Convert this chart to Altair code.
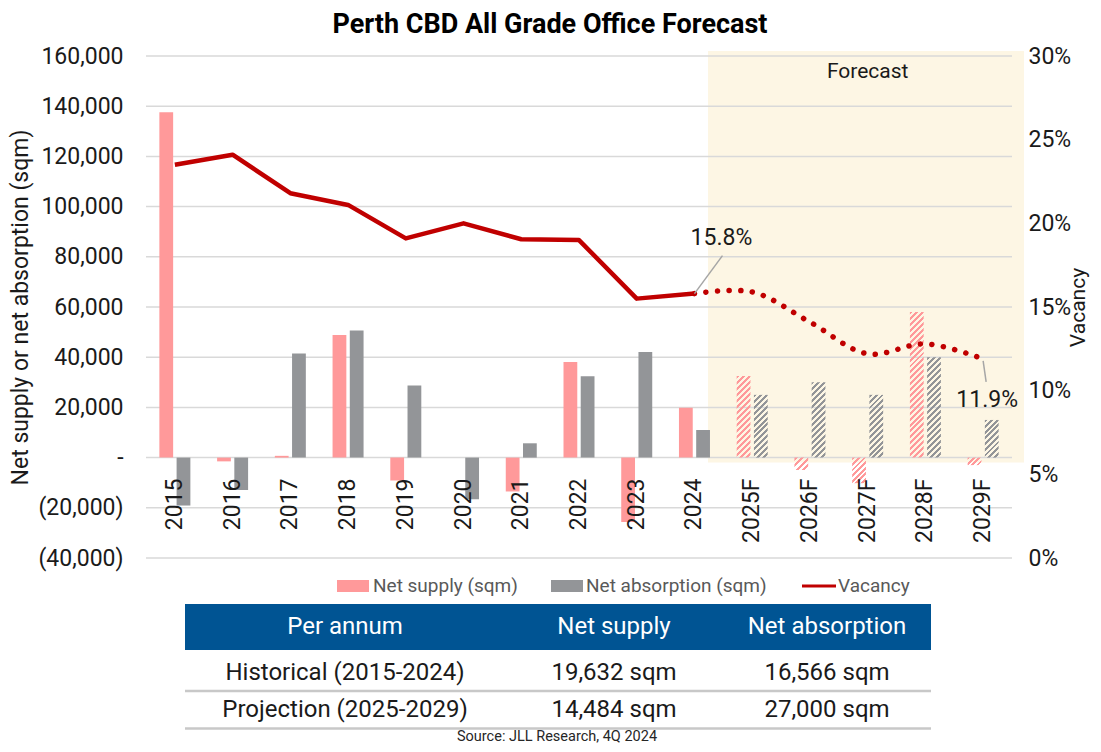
import altair as alt
import pandas as pd

# ---------------- data ----------------
years = ["2015", "2016", "2017", "2018", "2019", "2020", "2021", "2022", "2023", "2024",
         "2025F", "2026F", "2027F", "2028F", "2029F"]
net_supply = [137600, -1500, 700, 48800, -9100, 0, -13500, 38100, -25700, 19900,
              32500, -4900, -10200, 58000, -3000]
net_absorption = [-19100, -12900, 41500, 50600, 28700, -16600, 5700, 32400, 42100, 11000,
                  25000, 30000, 25000, 40000, 15000]
vacancy = [23.5, 24.1, 21.8, 21.1, 19.1, 20.0, 19.05, 19.0, 15.5, 15.8,
           15.9, 14.1, 12.2, 12.8, 11.9]
n_hist = 10  # 2015-2024 actuals, rest forecast

series_names = ["Net supply (sqm)", "Net absorption (sqm)"]
legend_labels = ["Net supply (sqm)", "Net absorption (sqm)", "Vacancy"]
y_ticks = [-40000, -20000, 0, 20000, 40000, 60000, 80000, 100000, 120000, 140000, 160000]
vac_ticks = [0, 5, 10, 15, 20, 25, 30]

table_header = ["Per annum", "Net supply", "Net absorption"]
table_rows = [["Historical (2015-2024)", "19,632 sqm", "16,566 sqm"],
              ["Projection (2025-2029)", "14,484 sqm", "27,000 sqm"]]
source_text = "Source: JLL Research, 4Q 2024"
chart_title = "Perth CBD All Grade Office Forecast"
forecast_label = "Forecast"

# ---------------- style ----------------
PINK = "#FF999A"
GREY = "#939598"
RED = "#C00000"
SHADE = "#FDF6E4"
GRID = "#D9D9D9"
BLUE = "#005493"
TXT = "#1a1a1a"
FONT = "Roboto"
W, H = 866, 502

x_scale = alt.Scale(domain=years, paddingInner=0.463, paddingOuter=0.2315)
y_scale = alt.Scale(domain=[-40000, 160000], nice=False, zero=False)
v_scale = alt.Scale(domain=[0, 30], nice=False, zero=False)
off_scale = alt.Scale(domain=series_names, paddingInner=0.2, paddingOuter=0)

x_axis = alt.Axis(title=None, labelAngle=270, labelFontSize=23, labelFont=FONT,
                  labelColor=TXT, domain=False, ticks=False, tickSize=0, grid=False,
                  labelPadding=20, offset=-100, zindex=1)
left_label_expr = ("datum.value == 0 ? '-\u00a0' : (datum.value < 0 ? '(' + format(-datum.value, ',') + ')'"
                   " : format(datum.value, ',') + '\u00a0')")
y_axis = alt.Axis(title="Net supply or net absorption (sqm)", values=y_ticks,
                  labelExpr=left_label_expr, labelFontSize=23, labelFont=FONT, labelColor=TXT,
                  domain=False, ticks=False, grid=False, labelPadding=23,
                  titleFont=FONT, titleFontSize=23, titleFontWeight="normal", titleColor=TXT,
                  titlePadding=5)
v_axis = alt.Axis(title="Vacancy", orient="right", values=vac_ticks,
                  labelExpr="datum.value + '%'", labelFontSize=23, labelFont=FONT, labelColor=TXT,
                  domain=False, ticks=False, grid=False, labelPadding=16,
                  titleFont=FONT, titleFontSize=21, titleFontWeight="normal", titleColor=TXT,
                  titleAngle=270, titleBaseline="top", titlePadding=-3)


def X(field="year:N", **kw):
    return alt.X(field, sort=years, scale=x_scale, axis=x_axis, **kw)


def Y(field="value:Q"):
    return alt.Y(field, scale=y_scale, axis=y_axis)


def V(field="vacancy:Q"):
    return alt.Y(field, scale=v_scale, axis=v_axis)


# ---------------- bars ----------------
rows = []
for i, yr in enumerate(years):
    rows.append({"year": yr, "series": series_names[0], "value": net_supply[i], "fc": i >= n_hist})
    rows.append({"year": yr, "series": series_names[1], "value": net_absorption[i], "fc": i >= n_hist})
bars_df = pd.DataFrame(rows)
hist_df = bars_df[~bars_df["fc"]]
fc_df = bars_df[bars_df["fc"]]

# shaded forecast region
shade = alt.Chart(pd.DataFrame({"k": [0]})).mark_rect(
    color=SHADE, xOffset=-28.7, x2Offset=25.4, yOffset=-5, y2Offset=5
).encode(
    x=alt.X(datum=years[n_hist], type="nominal", bandPosition=0, scale=x_scale, axis=x_axis),
    x2=alt.X2(datum=years[-1], bandPosition=1),
    y=alt.Y(datum=160000, type="quantitative", scale=y_scale, axis=y_axis),
    y2=alt.Y2(datum=0),
)

grid = alt.Chart(pd.DataFrame({"tick": y_ticks})).mark_rule(
    color=GRID, strokeWidth=1.5
).encode(y=Y("tick:Q"))

bars_hist = alt.Chart(hist_df).mark_bar().encode(
    x=X(),
    xOffset=alt.XOffset("series:N", sort=series_names, scale=off_scale),
    y=Y(),
    fill=alt.Fill("series:N", scale=alt.Scale(domain=series_names, range=[PINK, GREY]), legend=None),
)

# hatched forecast bars (diagonal stripes via hard-stop gradients)
step = W / 15.0
bar_w = step * (1 - 0.463) / (2 - 0.2) * 0.8
px_per_unit = H / 200000.0


def hatch(color, w, h, period=6.0):
    h = max(h, 1.0)
    n = max(1, int(round((w + h) / period)))
    k = (w + h) / (w * w + h * h)
    a, b = w * k, h * k
    clear = "rgba(255,255,255,0)"
    stops = []
    for j in range(n):
        o0, o1, o2 = j / n, (j + 0.5) / n, (j + 1) / n
        stops += [alt.GradientStop(color=color, offset=o0),
                  alt.GradientStop(color=color, offset=o1),
                  alt.GradientStop(color=clear, offset=o1),
                  alt.GradientStop(color=clear, offset=min(o2, 1.0))]
    return alt.LinearGradient(gradient="linear", stops=stops, x1=0, y1=0, x2=a, y2=b)


fc_layers = []
for _, r in fc_df.iterrows():
    if r["value"] == 0:
        continue
    col = PINK if r["series"] == series_names[0] else GREY
    grad = hatch(col, bar_w, abs(r["value"]) * px_per_unit)
    fc_layers.append(
        alt.Chart(pd.DataFrame([r[["year", "series", "value"]].to_dict()])).mark_bar(fill=grad).encode(
            x=X(),
            xOffset=alt.XOffset("series:N", sort=series_names, scale=off_scale),
            y=Y(),
        )
    )

fc_text = alt.Chart(pd.DataFrame({"t": [forecast_label]})).mark_text(
    font=FONT, fontSize=21, color=TXT
).encode(
    x=alt.X(datum="2027F", type="nominal", scale=x_scale, axis=x_axis),
    y=alt.Y(datum=153500, type="quantitative", scale=y_scale, axis=y_axis),
    text="t:N",
)

bars_group = alt.layer(shade, grid, bars_hist, *fc_layers, fc_text)

# ---------------- vacancy line ----------------
vac_df = pd.DataFrame({"year": years, "vacancy": vacancy})
vac_hist = vac_df.iloc[:n_hist]
vac_fc = vac_df.iloc[n_hist - 1:]

line_hist = alt.Chart(vac_hist).mark_line(
    color=RED, strokeWidth=4.5, strokeJoin="round"
).encode(x=X(), y=V())

line_fc = alt.Chart(vac_fc).mark_line(
    color=RED, strokeWidth=5.5, strokeDash=[0.1, 11.5], strokeCap="round", interpolate="catmull-rom"
).encode(x=X(), y=V())

ann_a = vac_df.iloc[[n_hist - 1]].assign(label=lambda d: d["vacancy"].map(lambda v: f"{v:.1f}%"))
ann_b = vac_df.iloc[[len(years) - 1]].assign(label=lambda d: d["vacancy"].map(lambda v: f"{v:.1f}%"))

lead_a = alt.Chart(ann_a).mark_rule(
    color="#A6A6A6", strokeWidth=1.5, xOffset=0, yOffset=0, x2Offset=28, y2Offset=-38
).encode(x=X(bandPosition=0.5), x2=alt.X2("year:N", bandPosition=0.5), y=V(), y2=alt.Y2("vacancy:Q"))
lead_b = alt.Chart(ann_b).mark_rule(
    color="#A6A6A6", strokeWidth=1.5, xOffset=0, yOffset=2, x2Offset=3, y2Offset=23
).encode(x=X(bandPosition=0.5), x2=alt.X2("year:N", bandPosition=0.5), y=V(), y2=alt.Y2("vacancy:Q"))

lab_a = alt.Chart(ann_a).mark_text(font=FONT, fontSize=23, color=TXT, dx=27, dy=-56).encode(
    x=X(), y=V(), text="label:N")
lab_b = alt.Chart(ann_b).mark_text(font=FONT, fontSize=23, color=TXT, dx=4, dy=41).encode(
    x=X(), y=V(), text="label:N")

# ---------------- legend (custom, below plot) ----------------
ox, oy = 146, 56  # plot origin in page pixels
deco = []
leg_x = [337, 551, 802]
leg_tx = [373, 586, 838]
leg_cols = [PINK, GREY, RED]
leg_y = 586
for i, lab in enumerate(legend_labels):
    if i < 2:
        deco.append(alt.Chart(pd.DataFrame({"k": [0]})).mark_rect(color=leg_cols[i]).encode(
            x=alt.value(leg_x[i] - ox), x2=alt.value(leg_x[i] + 32 - ox),
            y=alt.value(leg_y - 6 - oy), y2=alt.value(leg_y + 6 - oy)))
    else:
        deco.append(alt.Chart(pd.DataFrame({"k": [0]})).mark_rule(color=leg_cols[i], strokeWidth=3).encode(
            x=alt.value(leg_x[i] - ox), x2=alt.value(leg_x[i] + 34 - ox),
            y=alt.value(leg_y - oy)))
    deco.append(alt.Chart(pd.DataFrame({"t": [lab]})).mark_text(
        font=FONT, fontSize=19, color="#595959", align="left", baseline="middle").encode(
        x=alt.value(leg_tx[i] - ox), y=alt.value(leg_y - oy), text="t:N"))

# ---------------- table ----------------
tx0, tx1 = 185, 931
col_cx = [345, 614, 827]
deco.append(alt.Chart(pd.DataFrame({"k": [0]})).mark_rect(color=BLUE).encode(
    x=alt.value(tx0 - ox), x2=alt.value(tx1 - ox), y=alt.value(604 - oy), y2=alt.value(650 - oy)))
for j, h in enumerate(table_header):
    deco.append(alt.Chart(pd.DataFrame({"t": [h]})).mark_text(
        font=FONT, fontSize=24, color="white", baseline="middle").encode(
        x=alt.value(col_cx[j] - ox), y=alt.value(627 - oy), text="t:N"))
row_cy = [672.5, 710]
row_line = [691, 728.5]
for r_i, row in enumerate(table_rows):
    for j, cell in enumerate(row):
        deco.append(alt.Chart(pd.DataFrame({"t": [cell]})).mark_text(
            font=FONT, fontSize=24, color=TXT, baseline="middle").encode(
            x=alt.value(col_cx[j] - ox), y=alt.value(row_cy[r_i] - oy), text="t:N"))
    deco.append(alt.Chart(pd.DataFrame({"k": [0]})).mark_rule(color="#C8C8C8", strokeWidth=2.5).encode(
        x=alt.value(tx0 - ox), x2=alt.value(tx1 - ox), y=alt.value(row_line[r_i] - oy)))
deco.append(alt.Chart(pd.DataFrame({"t": [source_text]})).mark_text(
    font=FONT, fontSize=14.5, color="#262626", baseline="middle").encode(
    x=alt.value(557 - ox), y=alt.value(737 - oy), text="t:N"))

line_group = alt.layer(line_hist, line_fc, lead_a, lead_b, lab_a, lab_b, *deco)

chart = alt.layer(bars_group, line_group).resolve_scale(y="independent").properties(
    width=W, height=H,
    autosize=alt.AutoSizeParams(type="none"),
    padding={"left": 138, "top": 48, "right": 81, "bottom": 186},
    background="white",
    title=alt.TitleParams(text=chart_title, font=FONT, fontSize=27, fontWeight="bold", color="black",
                          anchor="middle", frame="group", dx=-29, offset=6),
).configure_view(stroke=None)

chart.save("out.html", embed_options={"renderer": "svg", "actions": False})
